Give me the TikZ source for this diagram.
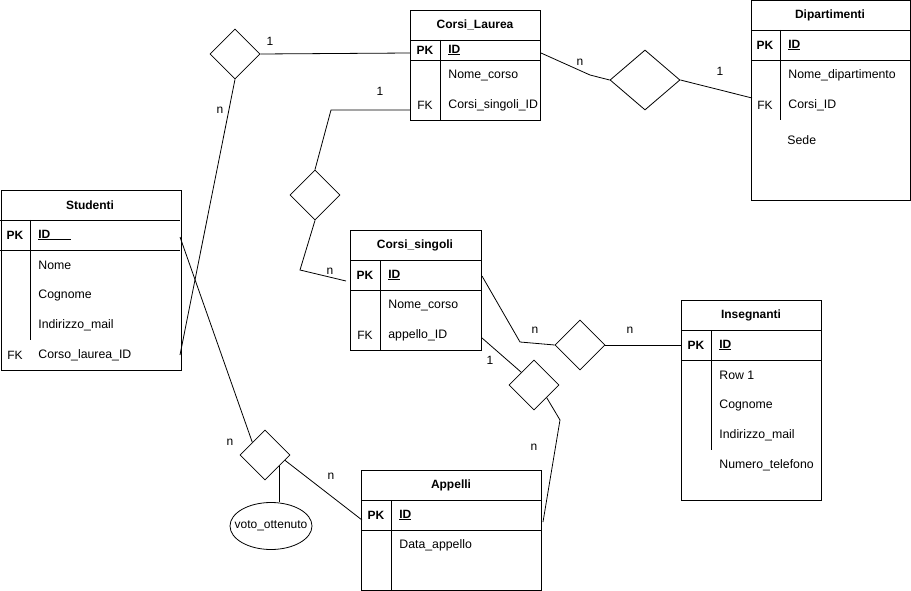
\documentclass[tikz,border=0pt]{standalone}
\usepackage{fontspec}
\setmainfont{Liberation Sans}
\usetikzlibrary{shapes.geometric}
\begin{document}
\begin{tikzpicture}[x=1pt,y=-1pt, line width=0.8pt,
 tbl/.style={draw, rectangle, inner sep=0pt, anchor=north west},
 rel/.style={diamond, draw, inner sep=0pt, minimum width=50pt, minimum height=50pt},
 txt/.style={font=\fontsize{12.3}{14}\selectfont, inner sep=0pt, anchor=west},
 key/.style={font=\fontsize{12}{14}\selectfont\bfseries, inner sep=0pt},
 fk/.style={font=\fontsize{12}{14}\selectfont, inner sep=0pt},
 hdr/.style={font=\fontsize{12}{14}\selectfont\bfseries, inner sep=0pt},
 lbl/.style={font=\fontsize{12}{14}\selectfont, inner sep=0pt},
 ]
\useasboundingbox (0,0) rectangle (911,591);

% ---------- Corsi_Laurea ----------
\node[tbl, minimum width=130pt, minimum height=110pt] (cl) at (410,10) {};
\draw (410,40) -- (540,40) (410,60) -- (540,60) (440,40) -- (440,120);
\node[hdr] (clh) at (475,25) {Corsi\_Laurea};
\node[key] (clpk) at (425,50) {PK};
\node[txt,font=\fontsize{12}{14}\selectfont\bfseries] (clid) at (448,50) {\underline{ID}};
\node[txt] (clnc) at (448,75) {Nome\_corso};
\node[fk] (clfk) at (425,105) {FK};
\node[txt] (clcs) at (448,105) {Corsi\_singoli\_ID};

% ---------- Dipartimenti ----------
\node[tbl, minimum width=159pt, minimum height=199.5pt] (dp) at (751,0.5) {};
\draw (751,30) -- (910,30) (751,60) -- (910,60) (780,30) -- (780,120);
\node[hdr] (dph) at (830,15) {Dipartimenti};
\node[key] (dppk) at (765,45) {PK};
\node[txt,font=\fontsize{12}{14}\selectfont\bfseries] (dpid) at (788,45) {\underline{ID}};
\node[txt] (dpnd) at (788,75) {Nome\_dipartimento};
\node[fk] (dpfk) at (765,105) {FK};
\node[txt] (dpci) at (788,105) {Corsi\_ID};
\node[txt] (dpse) at (787,140) {Sede};

% ---------- Studenti ----------
\node[tbl, minimum width=180pt, minimum height=180pt] (st) at (0.5,190) {};
\draw (0,220) -- (180,220) (0,250) -- (180,250) (30,220) -- (30,340);
\node[hdr] (sth) at (90,205) {Studenti};
\node[key] (stpk) at (15,235) {PK};
\node[txt,font=\fontsize{12}{14}\selectfont\bfseries] (stid) at (38,235) {\underline{ID\hspace{21pt}}};
\node[txt] (stno) at (38,265) {Nome};
\node[txt] (stco) at (38,295) {Cognome};
\node[txt] (stim) at (38,325) {Indirizzo\_mail};
\node[fk] (stfk) at (15,355) {FK};
\node[txt] (stcl) at (38,355) {Corso\_laurea\_ID};

% ---------- Corsi_singoli ----------
\node[tbl, minimum width=131pt, minimum height=120pt] (cs) at (350,230) {};
\draw (350,260) -- (481,260) (350,290) -- (481,290) (380,260) -- (380,350);
\node[hdr] (csh) at (415,245) {Corsi\_singoli};
\node[key] (cspk) at (365,275) {PK};
\node[txt,font=\fontsize{12}{14}\selectfont\bfseries] (csid) at (388,275) {\underline{ID}};
\node[txt] (csnc) at (388,305) {Nome\_corso};
\node[fk] (csfk) at (365,335) {FK};
\node[txt] (csap) at (388,335) {appello\_ID};

% ---------- Insegnanti ----------
\node[tbl, minimum width=140pt, minimum height=200pt] (in) at (681,300) {};
\draw (681,330) -- (821,330) (681,360) -- (821,360) (711,330) -- (711,450);
\node[hdr] (inh) at (751,315) {Insegnanti};
\node[key] (inpk) at (696,345) {PK};
\node[txt,font=\fontsize{12}{14}\selectfont\bfseries] (inid) at (719,345) {\underline{ID}};
\node[txt] (inr1) at (719,375) {Row 1};
\node[txt] (inco) at (719,405) {Cognome};
\node[txt] (inim) at (719,435) {Indirizzo\_mail};
\node[txt] (innt) at (719,465) {Numero\_telefono};

% ---------- Appelli ----------
\node[tbl, minimum width=180pt, minimum height=120pt] (ap) at (361,470) {};
\draw (361,500) -- (541,500) (361,530) -- (541,530) (391,500) -- (391,590);
\node[hdr] (aph) at (451,485) {Appelli};
\node[key] (appk) at (376,515) {PK};
\node[txt,font=\fontsize{12}{14}\selectfont\bfseries] (apid) at (399,515) {\underline{ID}};
\node[txt] (apda) at (399,545) {Data\_appello};

% ---------- relationships ----------
\node[rel] (d1) at (235,54) {};
\node[rel] (d2) at (315,195) {};
\node[rel] (d3) at (580,345) {};
\node[rel] (d4) at (534,385) {};
\node[rel, minimum width=70pt, minimum height=60pt] (d5) at (645,80) {};
\node[rel] (d6) at (265,455) {};
\node[draw, ellipse, inner sep=0pt, minimum width=82pt, minimum height=47pt] (vt) at (271,526) {};
\node[lbl] (vtt) at (271,526) {voto\_ottenuto};

% attachment points
\coordinate (clL) at (410,53);
\coordinate (clF) at (410,110);
\coordinate (clR) at (541,53);
\coordinate (stR) at (180,237);
\coordinate (stF) at (180,355);
\coordinate (csL) at (346,281);
\coordinate (csR) at (482,276);
\coordinate (csF) at (482,338);
\coordinate (inL) at (681,345);
\coordinate (dpL) at (752,98);
\coordinate (apL) at (362,520);
\coordinate (apR) at (543,522);
\coordinate (b1) at (331,110);
\coordinate (b2) at (300,270);
\coordinate (b3) at (520,342);
\coordinate (b4) at (560,420);
\coordinate (b5) at (590,75);

% ---------- connectors ----------
\draw (d1.east) -- (clL);
\draw (d1.south) -- (stF);
\draw (clF) -- (b1) -- (d2.north);
\draw (d2.south) -- (b2) -- (csL);
\draw (csR) -- (b3) -- (d3.west);
\draw (d3.east) -- (inL);
\draw (csF) -- (d4.north west);
\draw (d4.south east) -- (b4) -- (apR);
\draw (stR) -- (d6.north west);
\draw (d6.-15) -- (apL);
\draw (d6.-38) -- (d6.-38 |- vt.north);
\draw (clR) -- (b5) -- (d5.west);
\draw (d5.east) -- (dpL);

% ---------- cardinalities ----------
\node[lbl] at (270,41) {1};
\node[lbl] at (220,110) {n};
\node[lbl] at (380,91) {1};
\node[lbl] at (330,271) {n};
\node[lbl] at (535,330) {n};
\node[lbl] at (630,330) {n};
\node[lbl] at (490,360) {1};
\node[lbl] at (534,447) {n};
\node[lbl] at (230,442) {n};
\node[lbl] at (331,476) {n};
\node[lbl] at (580,62) {n};
\node[lbl] at (720,71) {1};
\end{tikzpicture}
\end{document}
